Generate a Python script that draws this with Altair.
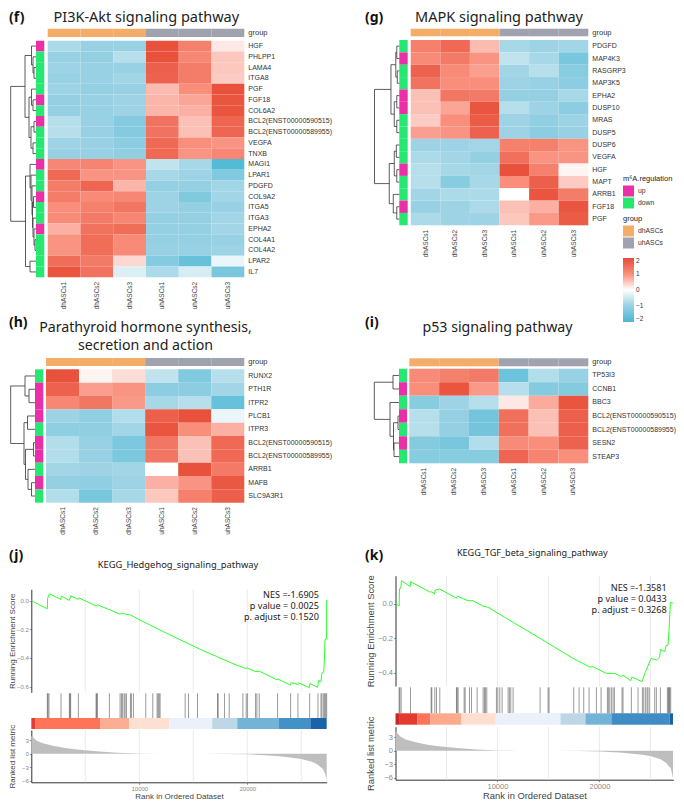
import altair as alt
import pandas as pd

# ---------- data ----------
samples = ["dhASCs1", "dhASCs2", "dhASCs3", "uhASCs1", "uhASCs2", "uhASCs3"]
groups = ["dhASCs"] * 3 + ["uhASCs"] * 3

f_genes = ["HGF", "PHLPP1", "LAMA4", "ITGA8", "PGF", "FGF18", "COL6A2", "BCL2(ENST00000590515)", "BCL2(ENST00000589955)",
           "VEGFA", "TNXB", "MAGI1", "LPAR1", "PDGFD", "COL9A2", "ITGA5", "ITGA3", "EPHA2", "COL4A1", "COL4A2", "LPAR2", "IL7"]
f_reg = "UDDDDUDUDDDUDDUDDUDDDD"
f_vals = [
    [-.8, -1, -1, 1.9, 1.2, .2], [-1, -1.05, -.7, 1.9, 1.1, .5], [-.95, -1, -1, 1.7, 1.25, .5], [-1, -1, -.9, 1.65, 1.25, .45],
    [-.95, -1.05, -1, .6, 1, 1.9], [-1.05, -1, -.95, .65, .8, 1.85], [-1.05, -1, -.95, .65, .7, 1.85],
    [-.7, -1, -1.25, 1.4, .55, 1.6], [-.7, -1, -1.25, 1.4, .55, 1.6], [-.95, -1, -1.15, 1.55, 1, .95], [-1, -1, -1.1, 1.55, .95, 1.1],
    [1.1, 1.15, .95, -.6, -.85, -1.85], [1.55, .95, .95, -.85, -.95, -1.3], [1.25, 1.6, .65, -1.05, -1.05, -.9],
    [1.25, 1.05, 1.1, -.95, -1.3, -.9], [1, 1.2, 1.35, -.95, -1.05, -1], [1.05, 1.3, 1.1, -1.05, -1.05, -.9],
    [.7, 1.4, 1.5, -1.05, -1.05, -.9], [.95, 1.5, 1.05, -1.05, -1.05, -1], [.95, 1.5, 1.05, -1, -1, -.95],
    [1.5, 1.3, .35, -1.25, -1.6, -.2], [1.85, 1.4, -.35, -.8, -.4, -1.4]]
f_tree = (25.3,
          (11, (4.5, 0, (3, 1, (2, 2, 3))),
           (7, (4.5, 4, (3, 5, 6)), (5, (2, 7, 8), (3, 9, 10)))),
          (10.5, (6, 11, (5, 12, (4, 13, (3.5, (2.5, 14, 15), (3, 16, (2, 17, (1, 18, 19))))))), (6, 20, 21)))

g_genes = ["PDGFD", "MAP4K3", "RASGRP3", "MAP3K5", "EPHA2", "DUSP10", "MRAS", "DUSP5", "DUSP6", "VEGFA", "HGF", "MAPT", "ARRB1", "FGF18", "PGF"]
g_reg = "DUDDUUDDDDUDDUD"
g_vals = [
    [1.2, 1.55, .6, -.85, -.95, -.9], [1.05, 1.3, .95, -.6, -.85, -1.4], [1.65, 1.05, .85, -.9, -.7, -1.2], [1.4, 1, 1, -.95, -1, -1.15],
    [.55, 1.35, 1.3, -1.05, -1.05, -.85], [.55, .8, 1.85, -.7, -.95, -1.15], [.45, 1, 1.75, -.95, -1.1, -.95], [.85, .95, 1.65, -.95, -1.15, -1],
    [-.95, -.95, -.9, 1.2, 1.2, .95], [-.8, -.9, -1.05, 1.45, .95, .95], [-.7, -.85, -.9, 1.9, 1.2, .1], [-.7, -1.2, -.85, 1, 1.7, .45],
    [-.9, -.8, -.8, 0, 1.85, 1.25], [-1, -.95, -.8, .55, .7, 1.85], [-.8, -.95, -.95, .5, .9, 1.75]]
g_tree = (24.7,
          (8.3, (3.5, (2.5, 0, 1), (2, 2, 3)), (5, (2.5, 4, 5), (2.5, 6, 7))),
          (10, (5, (3, 8, 9), (2.5, 10, 11)), (6, 12, (2.5, 13, 14))))

h_genes = ["RUNX2", "PTH1R", "ITPR2", "PLCB1", "ITPR3", "BCL2(ENST00000590515)", "BCL2(ENST00000589955)", "ARRB1", "MAFB", "SLC9A3R1"]
h_reg = "DUUUDUUDUD"
h_vals = [
    [1.9, .1, .3, -.6, -1.3, -.7], [1.65, .85, .95, -1.15, -1.15, -.9], [1.1, 1.35, .9, -.85, -.7, -1.6],
    [-.95, -1.1, -.75, 1.7, 1.9, -.2], [-1.1, -1.1, -.9, 1.85, 1, .7], [-.75, -1, -1.35, 1.35, .55, 1.55], [-.75, -1, -1.35, 1.35, .55, 1.55],
    [-.9, -.95, -.9, 0, 1.9, 1.3], [-1.05, -1.1, -.95, .7, .95, 1.8], [-.75, -1.4, -.85, .5, 1.2, 1.7]]
h_tree = (24.3,
          (10, 0, (6, 1, 2)),
          (11, (7.5, 3, 4), (9.5, (1.5, 5, 6), (7, 7, (3.5, 8, 9)))))

i_genes = ["TP53I3", "CCNB1", "BBC3", "BCL2(ENST00000590515)", "BCL2(ENST00000589955)", "SESN2", "STEAP3"]
i_reg = "DUDUDUD"
i_vals = [
    [1.05, 1.2, 1.3, -1.55, -.75, -1], [1, 1.85, .9, -.7, -1.25, -1.25], [-1.2, -.95, -.7, .2, .75, 1.85],
    [-.7, -1.05, -1.45, 1.45, .55, 1.7], [-.7, -1.05, -1.45, 1.45, .55, 1.7], [-1.25, -1.4, -.75, 1.05, 1, 1.65], [-1.2, -1.2, -1.2, 1.6, 1.15, 1]]
i_tree = (24.7, (6, 0, 1), (9, 2, (5.5, (1, 3, 4), (5, 5, 6))))

j_es_x = [0, 1480, 1510, 1670, 2750, 2780, 3520, 3650, 4330, 4420, 6000, 6120, 7140, 7290, 8220, 8340, 9200, 10070, 12550, 15640, 17180,
          18730, 19810, 20020, 20730, 21140, 22740, 22830, 23980, 24070, 24690, 24750, 25740, 25800, 26510, 26600, 26820, 26910, 27070,
          27130, 27190, 27340, 27350]
j_es_y = [0, -.056, .016, .049, .009, .033, .002, .035, .009, .02, -.037, -.028, -.06, -.063, -.095, -.088, -.10, -.135, -.228, -.34, -.39,
          -.442, -.472, -.47, -.495, -.493, -.553, -.547, -.59, -.572, -.586, -.574, -.607, -.579, -.605, -.556, -.565, -.502, -.498,
          -.433, -.27, -.267, .005]
j_hits = [1483, 1545, 1638, 2750, 3523, 3584, 3646, 4357, 5995, 6056, 6118, 7231, 8219, 8343, 8436, 8590, 8683, 8807, 9177, 9270, 9455,
          10599, 11248, 11649, 11742, 11835, 11927, 14245, 14554, 15388, 17242, 17304, 17891, 18324, 19591, 19900, 20023, 20765, 20888,
          21105, 22804, 24009, 24689, 25771, 26543, 26821, 26914, 27068, 27161, 27254, 27347]
j_band_edges = [0, 400, 6365, 9054, 12793, 16748, 19065, 22928, 25832, 27350]
j_band_cols = ["#E53B30", "#FF7358", "#FDAE92", "#FEE0D2", "#EAF1FB", "#BDD7E7", "#73B3D8", "#4292C6", "#1A63AB"]
j_rank_x = [0, 500, 1000, 2000, 3000, 4000, 6000, 8000, 10000, 12000, 14000, 16000, 18000, 20000, 22000, 23000, 24000, 25000, 26000, 26500, 27000, 27200, 27350]
j_rank_y = [4, 2.9, 2.4, 1.8, 1.35, 1, .55, .2, .05, .01, 0, -.03, -.07, -.15, -.4, -.6, -.85, -1.2, -1.8, -2.4, -3.4, -4.5, -5.9]

k_es_x = [0, 359, 392, 523, 588, 1438, 1471, 3431, 3497, 3824, 3889, 4346, 5980, 6079, 6699, 7124, 7614, 8595, 9085, 10882, 14150, 17418,
          19052, 19379, 20686, 21503, 22157, 22320, 23072, 23203, 23856, 24183, 24445, 24608, 24935, 25098, 25588, 25915, 25981, 26405,
          26536, 26732, 26830, 26928, 26961, 27222]
k_es_y = [0, -.013, .087, .09, .133, .099, .127, .066, .07, .056, .079, .085, .031, .044, .027, .017, .017, -.014, -.021, -.085, -.2, -.317,
          -.367, -.365, -.404, -.404, -.423, -.415, -.446, -.425, -.443, -.452, -.404, -.385, -.336, -.317, -.327, -.311, -.265, -.278,
          -.243, -.24, -.153, -.037, .008, .004]
k_hits = [359, 425, 556, 1471, 3497, 3562, 3856, 4020, 4346, 5980, 6046, 6144, 6732, 6830, 7255, 7451, 8007, 8595, 8726, 8824, 8954, 9902,
          10033, 10229, 10458, 11046, 11177, 11307, 11536, 14183, 14967, 15065, 17484, 18007, 18464, 18987, 19706, 20163, 20784, 20882,
          21013, 21177, 21340, 21471, 22222, 22320, 23137, 23791, 24216, 24347, 24510, 24674, 24772, 24935, 25425, 25588, 25981, 26667,
          26765, 26830, 26896, 26994]
k_band_edges = [0, 425, 2157, 3431, 6471, 9837, 16177, 18628, 21177, 26896, 27222]
k_band_cols = ["#C62828", "#E53A30", "#FF7358", "#FCA98C", "#FEE0D2", "#EAF1FB", "#BDD7E7", "#73B3D8", "#3F8DC4", "#1A5FA8"]
k_rank_x = [0, 500, 1000, 2000, 3000, 4000, 6000, 8000, 10000, 12000, 14000, 16000, 18000, 20000, 22000, 23000, 24000, 25000, 26000, 26500, 27000, 27220]
k_rank_y = [4.4, 3.1, 2.5, 1.9, 1.4, 1.05, .6, .25, .05, .01, 0, -.03, -.08, -.2, -.4, -.6, -.85, -1.2, -1.9, -2.6, -3.9, -6]

grid_ticks = [5000, 10000, 15000, 20000, 25000]

# ---------- page helpers ----------
W, H = 668, 793
FONT = "Liberation Sans"
TITLE_FONT = "Noto Sans"
HEAT_STOPS = [-2, -1, 0, 1, 2]
HEAT_COLS = ["#48B7D4", "#98D1E3", "#FFFFFF", "#F98E7B", "#E64B35"]
UP, DOWN = "#EB2FA8", "#26E870"
ORANGE, GREY = "#F4AD68", "#A0A3AF"
LEG_X = 623


def P(v):
    return v - 8


layers = []


def text(s, x, y, size, font=TITLE_FONT, weight="normal", align="center", color="#222222"):
    layers.append(
        alt.Chart(pd.DataFrame({"t": [s]}))
        .mark_text(fontSize=size, font=font, fontWeight=weight, align=align, baseline="middle", color=color)
        .encode(text="t:N", x=alt.value(P(x)), y=alt.value(P(y)))
    )


def tree_segments(node, segs):
    if isinstance(node, int):
        return node + 0.5, 0.0
    h, a, b = node
    ya, ha = tree_segments(a, segs)
    yb, hb = tree_segments(b, segs)
    segs.append(dict(x=ha, x2=h, y=ya, y2=ya))
    segs.append(dict(x=hb, x2=h, y=yb, y2=yb))
    segs.append(dict(x=h, x2=h, y=ya, y2=yb))
    return (ya + yb) / 2, h


def heatmap(genes, reg, vals, tree, box, top_bar, left_bar, root_x, label_pad=4, legends=False):
    x0, x1, y0, y1 = box
    band_x = alt.Scale(domain=samples, range=[P(x0), P(x1)], paddingInner=0, paddingOuter=0)
    band_y = alt.Scale(domain=genes, range=[P(y0), P(y1)], paddingInner=0, paddingOuter=0)

    # main cells, with gene labels and sample labels as axes
    rows = [dict(gene=g, sample=s, value=v) for g, r in zip(genes, vals) for s, v in zip(samples, r)]
    color = alt.Color(
        "value:Q",
        scale=alt.Scale(domain=HEAT_STOPS, range=HEAT_COLS, interpolate="rgb"),
        legend=alt.Legend(
            title=None, orient="none", legendX=P(LEG_X), legendY=P(258), gradientLength=64, gradientThickness=11,
            values=[-2, -1, 0, 1, 2], labelFontSize=6.5, labelColor="#333333", labelFont=FONT, format="d", gradientStrokeWidth=0,
        ) if legends else None,
    )
    layers.append(
        alt.Chart(pd.DataFrame(rows)).mark_rect().encode(
            x=alt.X("sample:N", scale=band_x, title=None, axis=alt.Axis(
                orient="bottom", offset=P(y1) - H, labelAngle=270, labelAlign="right", labelBaseline="middle", domain=False, ticks=False,
                labelPadding=label_pad, labelFontSize=6.5, labelColor="#444444", labelFont=FONT, labelOverlap=False, grid=False)),
            y=alt.Y("gene:N", scale=band_y, title=None, axis=alt.Axis(
                orient="right", offset=P(x1) - W, domain=False, ticks=False, labelPadding=3.5, labelFontSize=7, labelLimit=200,
                labelColor="#333333", labelFont=FONT, labelOverlap=False, grid=False)),
            color=color,
        )
    )

    # top group bar with its "group" label
    by = alt.Scale(domain=["group"], range=[P(top_bar[0]), P(top_bar[1])], paddingInner=0, paddingOuter=0)
    layers.append(
        alt.Chart(pd.DataFrame({"sample": samples, "group": groups, "row": ["group"] * 6})).mark_rect().encode(
            x=alt.X("sample:N", scale=band_x, axis=None),
            y=alt.Y("row:N", scale=by, title=None, axis=alt.Axis(
                orient="right", offset=P(x1) - W, domain=False, ticks=False, labelPadding=3.5, labelFontSize=7.5,
                labelColor="#333333", labelFont=FONT, grid=False)),
            color=alt.Color("group:N", scale=alt.Scale(domain=["dhASCs", "uhASCs"], range=[ORANGE, GREY]),
                            legend=alt.Legend(title="group", orient="none", legendX=P(LEG_X), legendY=P(215), symbolType="square",
                                              symbolSize=121, symbolStrokeWidth=0, titleFontSize=7.5, labelFontSize=6.8,
                                              titleFont=FONT, labelFont=FONT, titleFontWeight="normal", titlePadding=3,
                                              rowPadding=1, labelColor="#333333", titleColor="#222222") if legends else None),
        )
    )

    # left regulation bar
    lx = alt.Scale(domain=[0, 1], range=[P(left_bar[0]), P(left_bar[1])], nice=False, zero=False)
    layers.append(
        alt.Chart(pd.DataFrame({"gene": genes, "reg": ["up" if c == "U" else "down" for c in reg], "a": 0, "b": 1}))
        .mark_rect().encode(
            x=alt.X("a:Q", scale=lx, axis=None), x2="b:Q",
            y=alt.Y("gene:N", scale=band_y, axis=None),
            color=alt.Color("reg:N", scale=alt.Scale(domain=["up", "down"], range=[UP, DOWN]),
                            legend=alt.Legend(title="m⁶A.regulation", orient="none", legendX=P(LEG_X), legendY=P(175), symbolType="square",
                                              symbolSize=121, symbolStrokeWidth=0, titleFontSize=7.5, labelFontSize=6.8,
                                              titleFont=FONT, labelFont=FONT, titleFontWeight="normal", titlePadding=3,
                                              rowPadding=1, labelColor="#333333", titleColor="#222222") if legends else None),
        )
    )

    # dendrogram
    segs = []
    tree_segments(tree, segs)
    dx = alt.Scale(domain=[0, tree[0]], range=[P(left_bar[0]), P(root_x)], nice=False, zero=False)
    dy = alt.Scale(domain=[0, len(genes)], range=[P(y0), P(y1)], nice=False, zero=False)
    layers.append(
        alt.Chart(pd.DataFrame(segs)).mark_rule(color="#333333", strokeWidth=0.8).encode(
            x=alt.X("x:Q", scale=dx, axis=None), x2="x2:Q",
            y=alt.Y("y:Q", scale=dy, axis=None), y2="y2:Q",
        )
    )


def gsea(es_x, es_y, hits, edges, cols, rx, ry, L, R, xmax, es_box, es_dom, es_ticks, hit_box, band_box, rank_box, rank_dom,
         lab_size, title_size, title_x):
    sx = alt.Scale(domain=[0, xmax], range=[P(L), P(R)], nice=False, zero=False)
    nox = alt.X("v:Q", scale=sx, axis=None)

    # vertical guide lines
    for top, bot in (es_box, rank_box):
        layers.append(alt.Chart(pd.DataFrame({"v": grid_ticks})).mark_rule(color="#E6E6E6", strokeWidth=0.8).encode(
            x=nox, y=alt.value(P(top)), y2=alt.value(P(bot))))

    # running score
    layers.append(alt.Chart(pd.DataFrame({"v": es_x, "s": es_y})).mark_line(color="#2BFF2B", strokeWidth=1, interpolate="linear").encode(
        x=nox,
        y=alt.Y("s:Q", scale=alt.Scale(domain=es_dom, range=[P(es_box[1]), P(es_box[0])], nice=False, zero=False), title="Running Enrichment Score",
                axis=alt.Axis(orient="left", offset=-P(L), values=es_ticks, format=".1f", grid=False, domainColor="#333333", tickColor="#999999",
                              tickSize=2, labelFontSize=lab_size, labelColor="#888888", labelPadding=1, titleFontSize=title_size, titleFontWeight="normal",
                              titleColor="#444444", titleFont=FONT, labelFont=FONT, titleX=title_x - L, labelOverlap=False)),
    ))

    # gene hit ticks
    layers.append(alt.Chart(pd.DataFrame({"v": hits})).mark_rule(color="#000000", opacity=0.5, strokeWidth=0.8).encode(
        x=nox, y=alt.value(P(hit_box[0])), y2=alt.value(P(hit_box[1]))))

    # colour band
    layers.append(alt.Chart(pd.DataFrame({"v": edges[:-1], "w": edges[1:], "c": cols})).mark_rect().encode(
        x=nox, x2="w:Q", y=alt.value(P(band_box[0])), y2=alt.value(P(band_box[1])), color=alt.Color("c:N", scale=None)))

    # ranked metric
    layers.append(alt.Chart(pd.DataFrame({"v": rx, "m": ry})).mark_area(color="#BEBEBE").encode(
        x=alt.X("v:Q", scale=sx, title="Rank in Ordered Dataset", axis=alt.Axis(
            orient="bottom", offset=P(rank_box[1]) - H, values=[10000, 20000], format="d", grid=False, domainColor="#333333", tickColor="#999999",
            tickSize=2, labelFontSize=lab_size, labelColor="#888888", titleFontSize=title_size, titleFontWeight="normal", titleColor="#444444",
            titleFont=FONT, labelFont=FONT, titlePadding=1, labelPadding=1)),
        y=alt.Y("m:Q", stack=None, scale=alt.Scale(domain=rank_dom, range=[P(rank_box[1]), P(rank_box[0])], nice=False, zero=False), title="Ranked list metric",
                axis=alt.Axis(orient="left", offset=-P(L), values=[-6, -3, 0, 3], grid=False, domainColor="#333333", tickColor="#999999", tickSize=2,
                              labelFontSize=lab_size, labelColor="#888888", labelPadding=1, titleFontSize=title_size, titleFontWeight="normal", titleColor="#444444",
                              titleFont=FONT, labelFont=FONT, titleX=title_x - L, labelOverlap=False)),
    ))


# ---------- panels ----------
heatmap(f_genes, f_reg, f_vals, f_tree, (47.7, 244.3, 40.7, 277.3), (28.7, 37), (36, 44.3), 10.7)
heatmap(g_genes, g_reg, g_vals, g_tree, (410.7, 588.3, 40, 225.3), (28.7, 36.3), (399.3, 407.7), 374.5, legends=True)
heatmap(h_genes, h_reg, h_vals, h_tree, (46, 244.3, 369.3, 502.7), (358, 366), (35, 43.3), 10.7)
heatmap(i_genes, i_reg, i_vals, i_tree, (409.3, 588.3, 368.7, 463.3), (358.3, 366.3), (399, 407), 374.3)

gsea(j_es_x, j_es_y, j_hits, j_band_edges, j_band_cols, j_rank_x, j_rank_y, 31.3, 326.7, 27350,
     (589.3, 692.3), [-.64, .08], [-.6, -.4, -.2, 0], (693.3, 718), (718, 729), (730, 782.3), [-6.4, 5.3], 6, 8, 17)
gsea(k_es_x, k_es_y, k_hits, k_band_edges, k_band_cols, k_rank_x, k_rank_y, 395.5, 673.3, 27250,
     (575.7, 686), [-.477, .162], [-.4, -.2, 0], (687.3, 713.3), (713.3, 724.7), (726.7, 779.7), [-6.44, 5.33], 7.5, 9.4, 375)

# white marks on the colour key
key_rows = [-2, -1, 1, 2]
for side in ((LEG_X, LEG_X + 3), (LEG_X + 8, LEG_X + 11)):
    layers.append(alt.Chart(pd.DataFrame({"k": key_rows})).mark_rule(color="#FFFFFF", strokeWidth=0.7).encode(
        y=alt.Y("k:Q", scale=alt.Scale(domain=[-2, 2], range=[P(322), P(258)], nice=False, zero=False), axis=None),
        x=alt.value(P(side[0])), x2=alt.value(P(side[1]))))

# ---------- text ----------
text("(f)", 9, 18, 14, weight="bold", align="left", color="#111111")
text("(g)", 365, 18, 14, weight="bold", align="left", color="#111111")
text("(h)", 9, 323, 14, weight="bold", align="left", color="#111111")
text("(i)", 365, 323, 14, weight="bold", align="left", color="#111111")
text("(j)", 9, 556, 14, weight="bold", align="left", color="#111111")
text("(k)", 365, 556, 14, weight="bold", align="left", color="#111111")

text("PI3K-Akt signaling pathway", 146.3, 18, 14.5)
text("MAPK signaling pathway", 499, 18, 14.5)
text("Parathyroid hormone synthesis,", 145.5, 328, 14.2)
text("secretion and action", 145.5, 345.7, 14.2)
text("p53 signaling pathway", 497.5, 328, 14.2)
text("KEGG_Hedgehog_signaling_pathway", 178, 564.7, 9.35)
text("KEGG_TGF_beta_signaling_pathway", 532.3, 553, 9.1)

text("NES =-1.6905", 319, 595, 9.1, align="right")
text("p value = 0.0025", 319, 606, 9.1, align="right")
text("p. adjust = 0.1520", 319, 617.3, 9.1, align="right")
text("NES =-1.3581", 666.7, 588, 9.1, align="right")
text("p value = 0.0433", 666.7, 599.3, 9.1, align="right")
text("p. adjust = 0.3268", 666.7, 610.3, 9.1, align="right")

chart = (
    alt.layer(*layers)
    .resolve_scale(x="independent", y="independent", color="independent")
    .resolve_axis(x="independent", y="independent")
    .resolve_legend(color="independent")
    .properties(width=W, height=H, padding=0, autosize=alt.AutoSizeParams(type="none"), background="white")
    .configure_view(stroke=None)
)
chart.save("out.html", embed_options={"renderer": "svg", "actions": False})
